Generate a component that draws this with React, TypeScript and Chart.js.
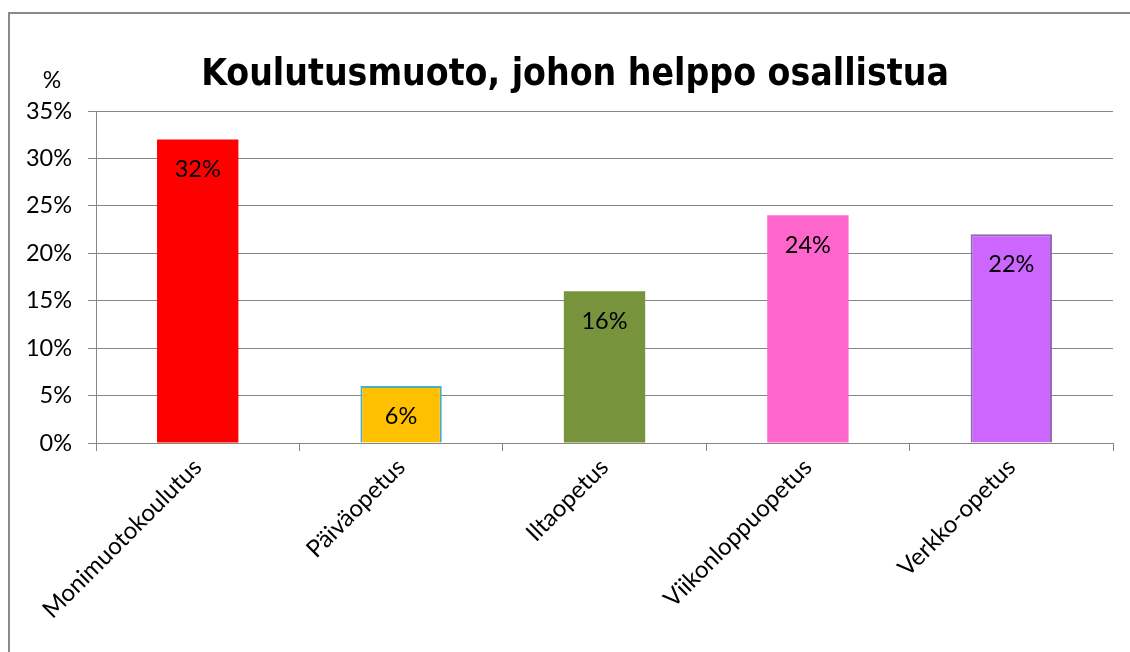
import React, { useEffect, useRef } from "react";
import { Chart, registerables } from "chart.js";

Chart.register(...registerables);

const categories = ["Monimuotokoulutus", "Päiväopetus", "Iltaopetus", "Viikonloppuopetus", "Verkko-opetus"];
const values = [32, 6, 16, 24, 22];
const barColors = ["#FF0000", "#FFC000", "#77933C", "#FF66CC", "#CC66FF"];
const barBorders = ["#FF0000", "#4BACC6", "#77933C", "#FF66CC", "#8E6BB0"];
const barBorderWidths = [0, 2, 0, 0, 2];
const yTicks = { min: 0, max: 35, step: 5 };
const title = "Koulutusmuoto, johon helppo osallistua";
const yUnit = "%";

const LABEL_FONT = "Lato, 'Open Sans', sans-serif";

const overlayPlugin = {
  id: "overlay",
  afterDatasetsDraw(chart: any) {
    const ctx = chart.ctx;
    const meta = chart.getDatasetMeta(0);
    ctx.save();
    ctx.fillStyle = "#000";
    ctx.font = `23.5px ${LABEL_FONT}`;
    ctx.textAlign = "center";
    ctx.textBaseline = "middle";
    meta.data.forEach((bar: any, i: number) => {
      ctx.fillText(values[i] + "%", bar.x, bar.y + 30);
    });
    ctx.restore();
  },
  afterDraw(chart: any) {
    const ctx = chart.ctx;
    ctx.save();
    ctx.fillStyle = "#000";
    ctx.font = `bold 37px 'DejaVu Sans Condensed', 'DejaVu Sans', sans-serif`;
    ctx.textAlign = "center";
    ctx.textBaseline = "alphabetic";
    ctx.fillText(title, 575, 85);
    ctx.font = `23px ${LABEL_FONT}`;
    ctx.fillText(yUnit, 52, 88);
    ctx.restore();
  },
};

export default function App() {
  const ref = useRef<HTMLCanvasElement>(null);
  useEffect(() => {
    if (!ref.current) return;
    const chart = new Chart(ref.current, {
      type: "bar",
      data: {
        labels: categories,
        datasets: [
          {
            data: values,
            backgroundColor: barColors,
            borderColor: barBorders,
            borderWidth: barBorderWidths,
            categoryPercentage: 1,
            barPercentage: 0.4,
          },
        ],
      },
      options: {
        animation: false,
        responsive: false,
        devicePixelRatio: 1,
        layout: { padding: { left: 0, top: 111, right: 17, bottom: 0 } },
        plugins: { legend: { display: false }, tooltip: { enabled: false }, title: { display: false } },
        scales: {
          x: {
            afterFit: (s: any) => { s.height = 209; },
            grid: { drawOnChartArea: false, drawTicks: true, tickLength: 8, color: "#868686", offset: true },
            border: { display: true, color: "#868686", width: 1 },
            ticks: {
              color: "#000",
              font: { family: LABEL_FONT, size: 24 },
              minRotation: 45,
              maxRotation: 45,
              autoSkip: false,
              padding: 2,
            },
          },
          y: {
            min: yTicks.min,
            max: yTicks.max,
            afterFit: (s: any) => { s.width = 96; },
            grid: { color: "#868686", tickLength: 8, drawTicks: true },
            border: { display: true, color: "#868686", width: 1 },
            ticks: {
              stepSize: yTicks.step,
              color: "#000",
              font: { family: LABEL_FONT, size: 23.5 },
              padding: 16,
              callback: (v: any) => v + "%",
            },
          },
        },
      },
      plugins: [overlayPlugin],
    });
    return () => chart.destroy();
  }, []);
  return (
    <div style={{ position: "absolute", left: 0, top: 0, width: 1130, height: 652, overflow: "hidden", background: "#fff" }}>
      <div
        style={{
          position: "absolute",
          left: 8,
          top: 12,
          width: 1200,
          height: 700,
          borderLeft: "2px solid #8a8a8a",
          borderTop: "2px solid #8a8a8a",
        }}
      />
      <canvas ref={ref} width={1130} height={652} style={{ position: "absolute", left: 0, top: 0 }} />
    </div>
  );
}
